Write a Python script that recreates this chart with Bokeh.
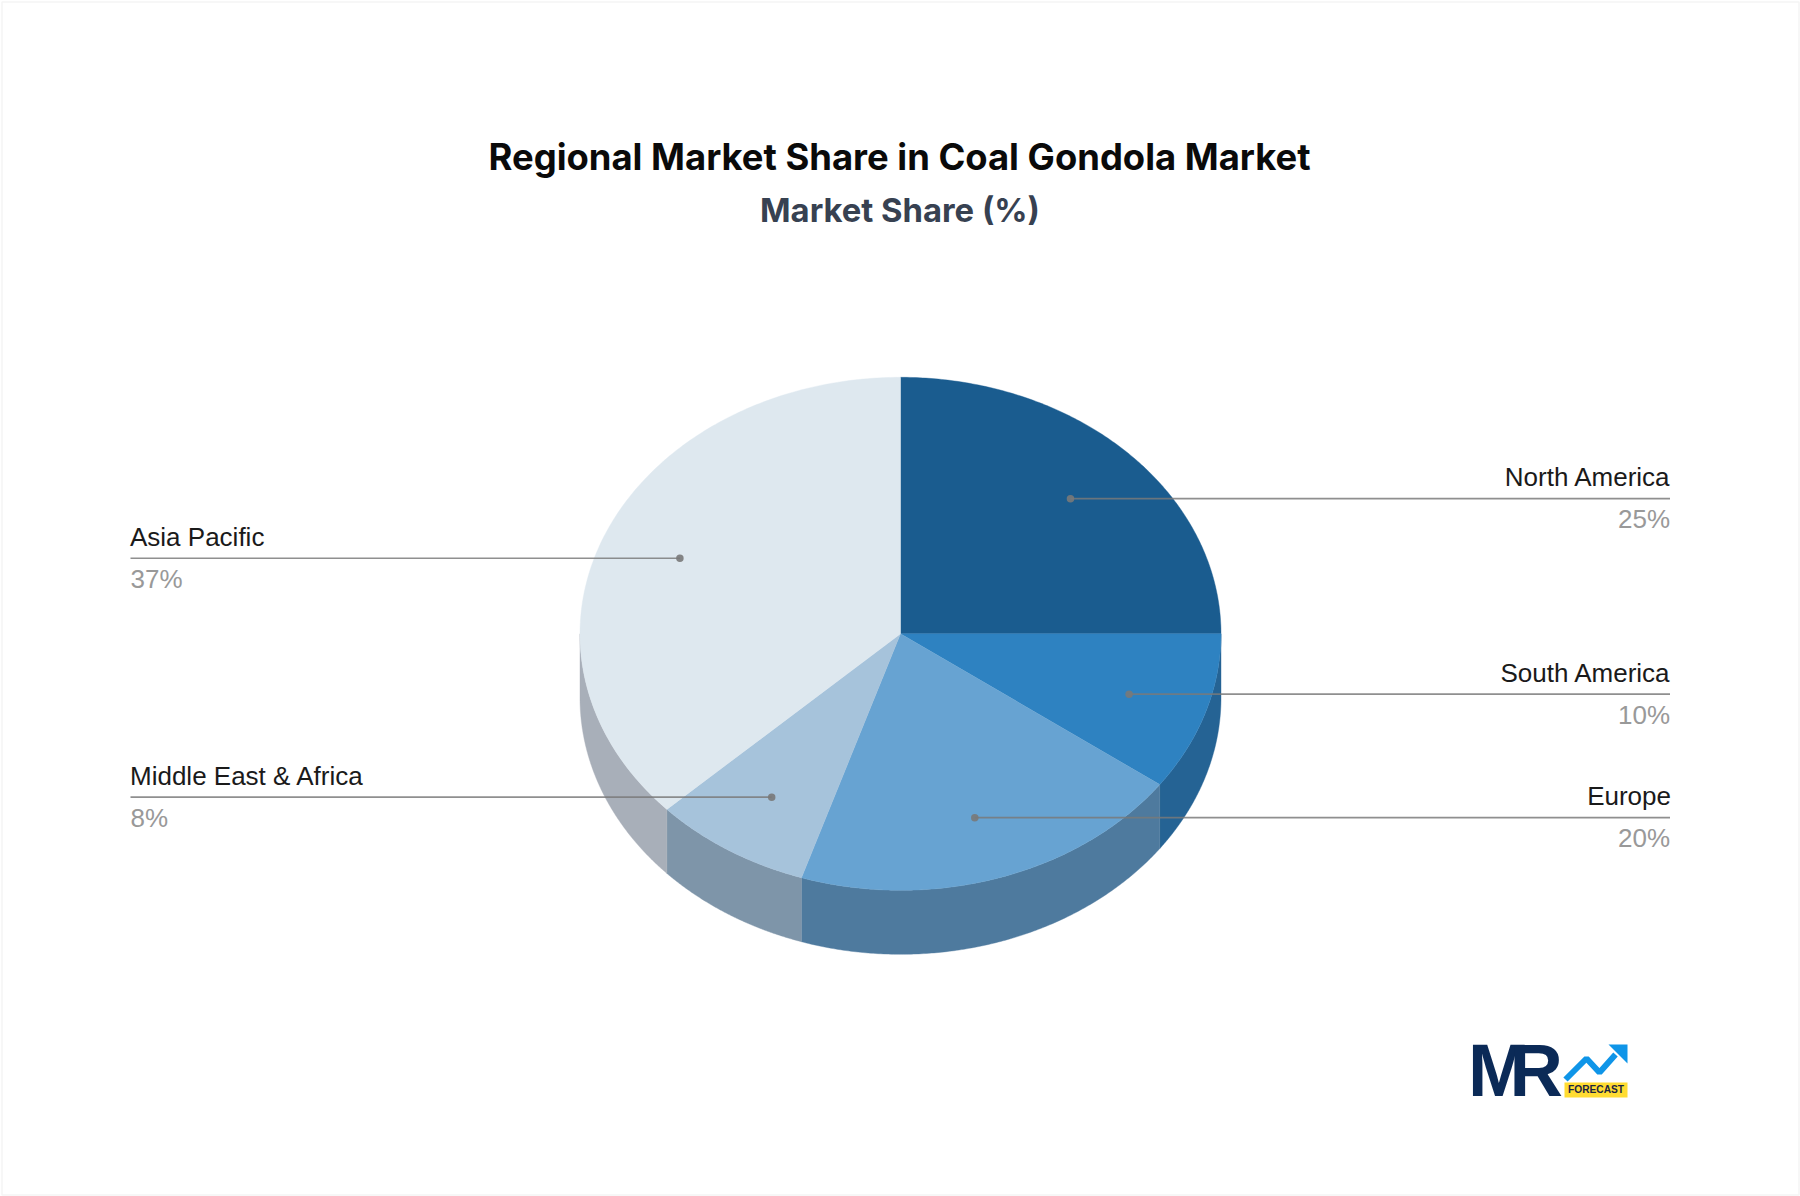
import numpy as np
from bokeh.core.properties import value
from bokeh.plotting import figure
from bokeh.models import Range1d
from bokeh.embed import file_html
from bokeh.resources import INLINE

regions = ["North America", "South America", "Europe", "Middle East & Africa", "Asia Pacific"]
shares = [25, 10, 20, 8, 37]
top_colors = ["#1a5c8f", "#2e82c1", "#67a3d2", "#a6c3db", "#dee8ef"]
wall_colors = ["#134469", "#256394", "#4e7a9e", "#7e95a9", "#a8afb9"]
title = "Regional Market Share in Coal Gondola Market"
subtitle = "Market Share (%)"

CX, CY, RX, RY, DEPTH = 900.0, 633.3, 320.5, 256.5, 64.0
DOT_SHIFT = 0.9
LEFT_X, RIGHT_X = 130.0, 1669.5
SANS = value("Liberation Sans")
HEAD = value("Inter")

p = figure(width=1800, height=1196, output_backend="svg", toolbar_location=None,
           x_range=Range1d(0, 1800), y_range=Range1d(1196, 0),
           min_border=0, outline_line_color=None, background_fill_color="white",
           border_fill_color="white")
p.axis.visible = False
p.grid.visible = False


def arc(f0, f1, n=160):
    t = np.linspace(f0, f1, n) * 2 * np.pi
    return CX + RX * np.sin(t), CY - RY * np.cos(t)


fractions = np.array(shares, dtype=float) / sum(shares)
ends = np.cumsum(fractions)
starts = ends - fractions

# side walls: only the front half of the disc shows
for f0, f1, col in zip(starts, ends, wall_colors):
    a, b = max(f0, 0.25), min(f1, 0.75)
    if b <= a:
        continue
    x, y = arc(a, b)
    p.patch(np.r_[x, x[::-1]], np.r_[y, y[::-1] + DEPTH],
            fill_color=col, line_color=col, line_width=0.4)

# top faces
for f0, f1, col in zip(starts, ends, top_colors):
    x, y = arc(f0, f1)
    p.patch(np.r_[CX, x], np.r_[CY, y], fill_color=col, line_color=col, line_width=0.4)

# leader lines, dots and labels
for name, share, f0, f1 in zip(regions, shares, starts, ends):
    mid = (f0 + f1) / 2 * 2 * np.pi
    dx, dy = CX + 0.75 * RX * np.sin(mid), CY - 0.75 * RY * np.cos(mid) + DOT_SHIFT
    right = np.sin(mid) > 0
    end = RIGHT_X if right else LEFT_X
    name_x = end + 1 if right else end - 0.5
    p.line([dx, end], [dy, dy], line_color="#797979", line_alpha=0.84, line_width=1.6)
    p.scatter([dx], [dy], size=7.5, fill_color="#797979", fill_alpha=0.9, line_color=None)
    align = "right" if right else "left"
    p.text([name_x], [dy - 21.5], text=[name], text_font=SANS, text_font_size="26px",
           text_color="#1a1a1a", text_align=align, text_baseline="alphabetic")
    p.text([end], [dy + 20.5], text=[f"{share}%"], text_font=SANS, text_font_size="26px",
           text_color="#999999", text_align=align, text_baseline="alphabetic")

# headings
p.text([899], [156], text=[title], text_font=HEAD, text_font_size="36.4px", text_font_style="bold",
       text_color="#0a0a0a", text_align="center", text_baseline="alphabetic")
p.text([899.5], [209.5], text=[subtitle], text_font=HEAD, text_font_size="32.8px", text_font_style="bold",
       text_color="#374151", text_align="center", text_baseline="alphabetic")

# logo
p.text([1467.4], [1070], text=["M"], text_font=SANS, text_font_size="74px", text_font_style="bold",
       text_color="#0b2a57", text_align="left", text_baseline="alphabetic")
p.text([1509], [1070], text=["R"], text_font=SANS, text_font_size="74px", text_font_style="bold",
       text_color="#0b2a57", text_align="left", text_baseline="alphabetic")
p.line([1565, 1586, 1599, 1615], [1079, 1058, 1072, 1054], line_color="#0f95e8", line_width=6)
p.patch([1608, 1627, 1627], [1044, 1044, 1063], fill_color="#0f95e8", line_color=None)
p.quad(left=[1564], right=[1627], top=[1082], bottom=[1097], fill_color="#ffdc32", line_color=None)
p.text([1595.5], [1089], text=["FORECAST"], text_font=SANS, text_font_size="10.2px",
       text_font_style="bold", text_color="#1a2440", text_align="center", text_baseline="alphabetic")

# faint page border
p.quad(left=[1.5], right=[1798.5], top=[1.5], bottom=[1194.5], fill_color=None, line_color="#f5f5f5", line_width=1.5)

open("out.html", "w").write(file_html(p, INLINE))
